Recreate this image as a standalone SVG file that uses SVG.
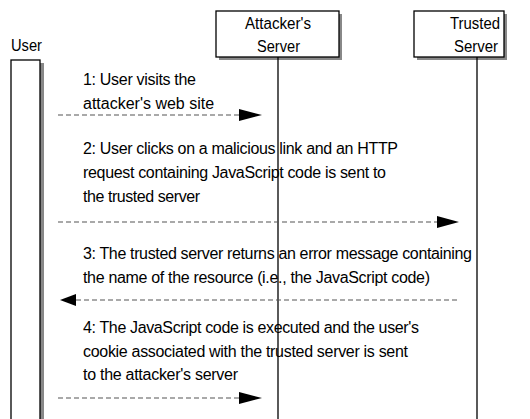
<svg xmlns="http://www.w3.org/2000/svg" width="530" height="419" viewBox="0 0 530 419">
<style>
text{font-family:"Liberation Sans",Arial,sans-serif;font-size:16px;fill:#000}
.box{fill:#fff;stroke:#000;stroke-width:1.3}
.sh{fill:#888}
.life{stroke:#000;stroke-width:1.3}
.msg{stroke:#555;stroke-width:1.1;stroke-dasharray:5 3;fill:none}
.head{fill:#000}
</style>
<rect width="530" height="419" fill="#fff"/>
<g id="user">
<text x="11" y="51" textLength="31" lengthAdjust="spacingAndGlyphs">User</text>
<rect class="sh" x="40" y="63" width="4" height="360"/>
<rect class="box" x="11" y="60" width="29" height="365"/>
</g>
<g id="attacker">
<rect class="sh" x="219" y="14" width="123" height="46"/>
<rect class="box" x="216" y="11" width="123" height="46"/>
<text x="245" y="29" textLength="66" lengthAdjust="spacingAndGlyphs">Attacker's</text>
<text x="257" y="52" textLength="43" lengthAdjust="spacingAndGlyphs">Server</text>
<line class="life" x1="278" y1="57" x2="278" y2="419"/>
</g>
<g id="trusted">
<rect class="sh" x="417" y="14" width="90" height="46"/>
<rect class="box" x="414" y="11" width="90" height="46"/>
<text x="450" y="29" textLength="50" lengthAdjust="spacingAndGlyphs">Trusted</text>
<text x="454" y="52" textLength="44" lengthAdjust="spacingAndGlyphs">Server</text>
<line class="life" x1="477" y1="57" x2="477" y2="419"/>
</g>
<g id="labels">
<text x="83" y="85" textLength="113" lengthAdjust="spacing">1: User visits the</text>
<text x="83" y="109">attacker's web site</text>
<text x="83" y="154" textLength="315" lengthAdjust="spacing">2: User clicks on a malicious link and an HTTP</text>
<text x="83" y="178" textLength="303" lengthAdjust="spacing">request containing JavaScript code is sent to</text>
<text x="83" y="202" textLength="117" lengthAdjust="spacing">the trusted server</text>
<text x="83" y="259" textLength="389" lengthAdjust="spacing">3: The trusted server returns an error message containing</text>
<text x="83" y="283" textLength="347" lengthAdjust="spacing">the name of the resource (i.e., the JavaScript code)</text>
<text x="83" y="333" textLength="336" lengthAdjust="spacing">4: The JavaScript code is executed and the user's</text>
<text x="83" y="357" textLength="325" lengthAdjust="spacing">cookie associated with the trusted server is sent</text>
<text x="83" y="380" textLength="155" lengthAdjust="spacing">to the attacker's server</text>
</g>
<g id="connectors">
<line class="msg" x1="58" y1="115" x2="240" y2="115"/>
<polygon class="head" points="239,109 262,115 239,121"/>
<line class="msg" x1="58" y1="222" x2="438" y2="222"/>
<polygon class="head" points="437,216 459,222 437,228"/>
<line class="msg" x1="76" y1="300" x2="460" y2="300"/>
<polygon class="head" points="76,294 60,300 76,306"/>
<line class="msg" x1="58" y1="398" x2="240" y2="398"/>
<polygon class="head" points="239,392 262,398 239,404"/>
</g>
</svg>
